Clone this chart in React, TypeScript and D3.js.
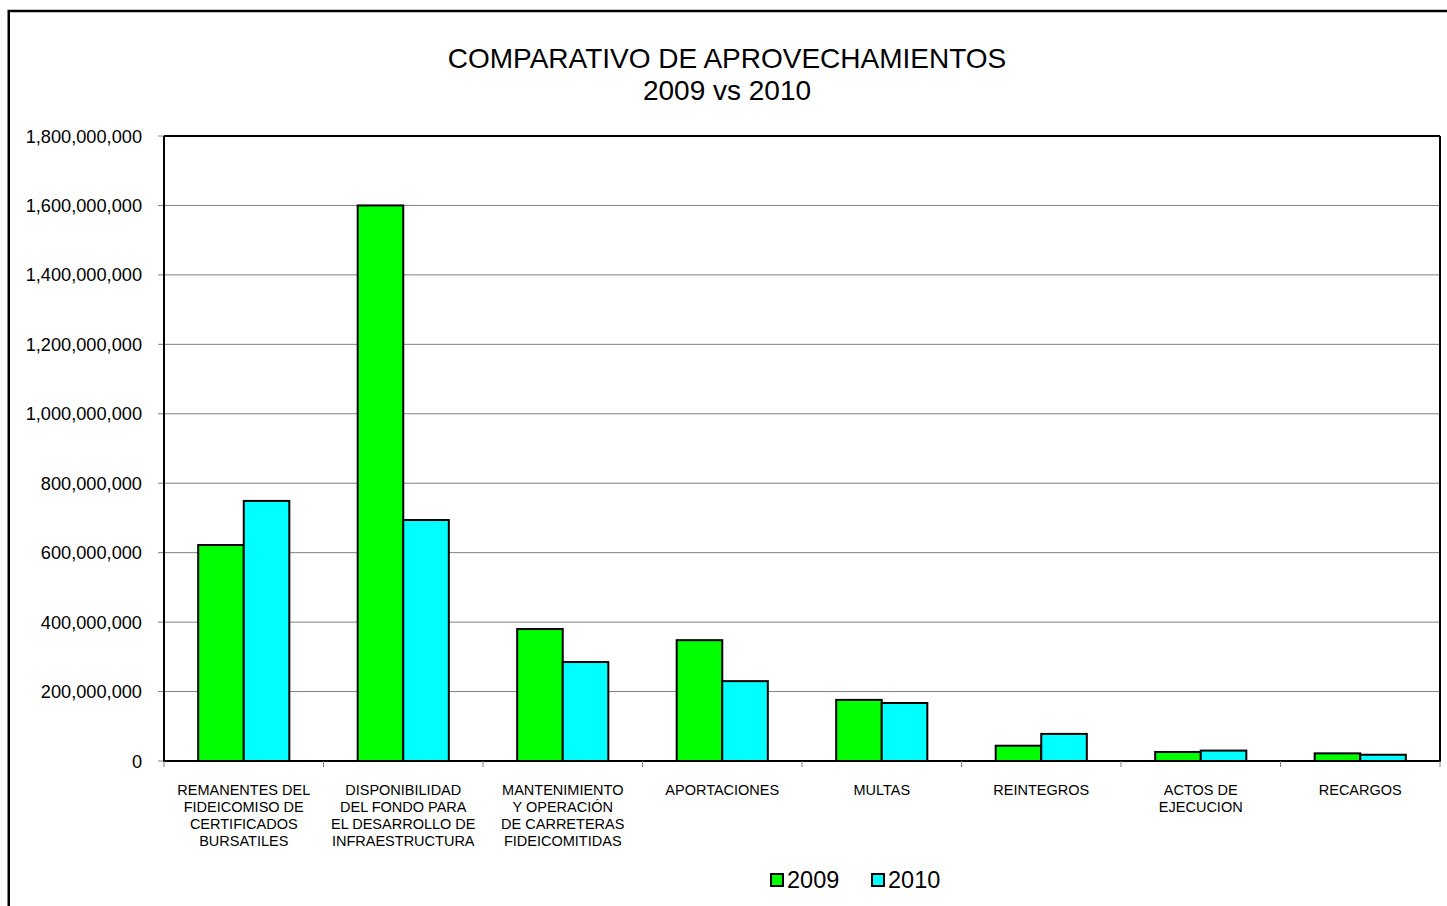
import React from "react";
import * as d3 from "d3";

const categories: string[][] = [
  ["REMANENTES DEL", "FIDEICOMISO DE", "CERTIFICADOS", "BURSATILES"],
  ["DISPONIBILIDAD", "DEL FONDO PARA", "EL DESARROLLO DE", "INFRAESTRUCTURA"],
  ["MANTENIMIENTO", "Y OPERACIÓN", "DE CARRETERAS", "FIDEICOMITIDAS"],
  ["APORTACIONES"],
  ["MULTAS"],
  ["REINTEGROS"],
  ["ACTOS DE", "EJECUCION"],
  ["RECARGOS"],
];
const values2009: number[] = [622e6, 1600e6, 380e6, 348e6, 176e6, 44e6, 26e6, 22e6];
const values2010: number[] = [749e6, 694e6, 285e6, 230e6, 167e6, 78e6, 30e6, 18e6];
const seriesNames = ["2009", "2010"];
const seriesColors = ["#00ff00", "#00ffff"];
const yTicks: number[] = [0, 2e8, 4e8, 6e8, 8e8, 1e9, 1.2e9, 1.4e9, 1.6e9, 1.8e9];

const W = 1447;
const H = 906;
const plot = { left: 164, top: 136, right: 1440, bottom: 761 };
const FONT = "Liberation Sans, Arial, sans-serif";

export default function App() {
  const x = d3
    .scaleBand<number>()
    .domain(categories.map((_, i) => i))
    .range([plot.left, plot.right])
    .paddingInner(0)
    .paddingOuter(0);
  const y = d3.scaleLinear().domain([0, 1.8e9]).range([plot.bottom, plot.top]);
  const bw = x.bandwidth();
  const barW = bw / 3.5;
  const gap = (bw - 2 * barW) / 2;
  const fmt = d3.format(",");
  const series = [values2009, values2010];

  return (
    <svg
      width={W}
      height={H}
      style={{ position: "absolute", left: 0, top: 0, display: "block" }}
      fontFamily={FONT}
    >
      <rect x={0} y={0} width={W} height={H} fill="#fff" />
      <rect x={8.75} y={11} width={W + 20} height={H + 20} fill="none" stroke="#000" strokeWidth={2.5} />
      <text x={727} y={67.5} textAnchor="middle" fontSize={28} fill="#000">
        COMPARATIVO DE APROVECHAMIENTOS
      </text>
      <text x={727} y={99.5} textAnchor="middle" fontSize={28} fill="#000">
        2009 vs 2010
      </text>

      {/* gridlines */}
      {yTicks.map((t) => (
        <line key={"g" + t} x1={plot.left} x2={plot.right} y1={y(t)} y2={y(t)} stroke="#808080" strokeWidth={1} />
      ))}
      {/* y ticks & labels */}
      {yTicks.map((t) => (
        <g key={"t" + t}>
          <line x1={plot.left - 6} x2={plot.left} y1={y(t)} y2={y(t)} stroke="#808080" strokeWidth={1} />
          <text x={142} y={y(t)} dy="0.36em" textAnchor="end" fontSize={18.2} fill="#000">
            {fmt(t)}
          </text>
        </g>
      ))}

      {/* bars */}
      {categories.map((_, i) =>
        series.map((vals, s) => {
          const x0 = (x(i) as number) + gap + s * barW;
          return (
            <rect
              key={`b${i}-${s}`}
              x={x0}
              y={y(vals[i])}
              width={barW}
              height={plot.bottom - y(vals[i])}
              fill={seriesColors[s]}
              stroke="#000"
              strokeWidth={2}
            />
          );
        })
      )}

      {/* plot frame */}
      <line x1={plot.left} x2={plot.right} y1={plot.top} y2={plot.top} stroke="#000" strokeWidth={2} />
      <line x1={plot.right} x2={plot.right} y1={plot.top} y2={plot.bottom} stroke="#000" strokeWidth={2} />
      <line x1={plot.left} x2={plot.left} y1={plot.top} y2={plot.bottom} stroke="#000" strokeWidth={2} />
      <line x1={plot.left - 1} x2={plot.right + 1} y1={plot.bottom} y2={plot.bottom} stroke="#000" strokeWidth={2} />

      {/* x ticks */}
      {categories.map((_, i) => (
        <line key={"xt" + i} x1={x(i) as number} x2={x(i) as number} y1={plot.bottom} y2={plot.bottom + 6} stroke="#808080" strokeWidth={1} />
      ))}
      <line x1={plot.right} x2={plot.right} y1={plot.bottom} y2={plot.bottom + 6} stroke="#808080" strokeWidth={1} />

      {/* category labels */}
      {categories.map((lines, i) => (
        <text key={"c" + i} x={(x(i) as number) + bw / 2} textAnchor="middle" fontSize={14.5} fill="#000">
          {lines.map((ln, j) => (
            <tspan key={j} x={(x(i) as number) + bw / 2} y={795 + j * 17}>
              {ln}
            </tspan>
          ))}
        </text>
      ))}

      {/* legend */}
      {seriesNames.map((name, s) => {
        const lx = 771 + s * 101;
        return (
          <g key={"l" + s}>
            <rect x={lx} y={874} width={12} height={12} fill={seriesColors[s]} stroke="#000" strokeWidth={2} />
            <text x={lx + 16} y={880} dy="0.36em" fontSize={23.5} fill="#000">
              {name}
            </text>
          </g>
        );
      })}
    </svg>
  );
}
